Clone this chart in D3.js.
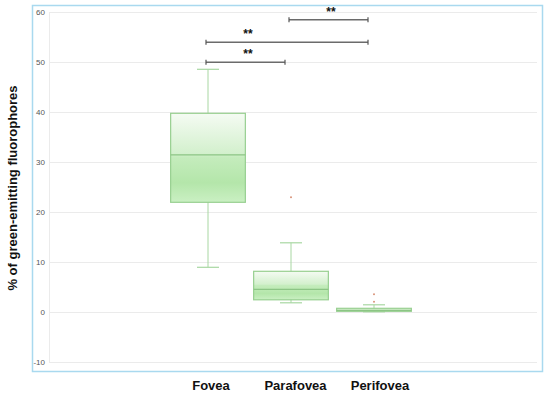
<!DOCTYPE html>
<html>
<head>
<meta charset="utf-8">
<script src="https://cdn.jsdelivr.net/npm/d3@7"></script>
<style>
  body { margin: 0; background: #fff; }
  svg { display: block; font-family: "Liberation Sans", Arial, sans-serif; }
</style>
</head>
<body>
<svg id="chart" width="550" height="397"></svg>
<script>
const categories  = ["Fovea", "Parafovea", "Perifovea"];
const whiskerLow  = [9, 1.9, 0.1];
const q1          = [22, 2.5, 0.2];
const median      = [31.5, 4.6, 0.4];
const q3          = [39.8, 8.2, 0.8];
const whiskerHigh = [48.6, 13.9, 1.5];
const means       = [30.6, 6.0, 0.6];
const outliers    = [[], [23], [3.6, 2.1]];
const yTicks      = [-10, 0, 10, 20, 30, 40, 50, 60];
// [from, to, height, star position (category index)]
const comparisons = [[0, 1, 50, 0.5], [0, 2, 54, 0.5], [1, 2, 58.5, 1.5]];

const svg = d3.select("#chart");

const y = d3.scaleLinear().domain([-10, 60]).range([362.3, 12.3]);
const x = d3.scaleBand().domain(categories).range([166.5, 415.5]).padding(0);
const xi = d3.scaleLinear().domain([0, 1]).range([208, 291]);
const boxW = x.bandwidth() * 0.9;
const capW = 22;

// gradient for boxes
const grad = svg.append("defs").append("linearGradient")
  .attr("id", "boxGrad").attr("x1", 0).attr("y1", 0).attr("x2", 0).attr("y2", 1);
[["0%", "#f5fbf3"], ["45%", "#d3f0cd"], ["50%", "#c4ecbc"], ["78%", "#b4e6aa"], ["100%", "#caf0c3"]]
  .forEach(([o, c]) => grad.append("stop").attr("offset", o).attr("stop-color", c));

// outer frame
svg.append("rect")
  .attr("x", 32.5).attr("y", 5.5).attr("width", 510).attr("height", 366)
  .attr("fill", "none").attr("stroke", "#a9d9ef").attr("stroke-width", 1.5);

// grid
svg.append("g").selectAll("line")
  .data(yTicks)
  .join("line")
  .attr("x1", 49).attr("x2", 537)
  .attr("y1", d => Math.round(y(d)) + 0.5).attr("y2", d => Math.round(y(d)) + 0.5)
  .attr("stroke", "#ebebeb");

svg.append("line")
  .attr("x1", 49.5).attr("x2", 49.5).attr("y1", y(60)).attr("y2", y(-10))
  .attr("stroke", "#ebebeb");

// y tick labels
svg.append("g").selectAll("text")
  .data(yTicks)
  .join("text")
  .attr("x", 45).attr("y", d => y(d))
  .attr("dy", "0.35em")
  .attr("text-anchor", "end")
  .attr("font-size", 8)
  .attr("fill", "#555")
  .text(d => d);

// y axis title
svg.append("text")
  .attr("transform", "translate(17,188) rotate(-90)")
  .attr("text-anchor", "middle")
  .attr("font-size", 13)
  .attr("font-weight", "bold")
  .attr("fill", "#111")
  .text("% of green-emitting fluorophores");

// boxes
const g = svg.append("g").selectAll("g")
  .data(categories)
  .join("g")
  .attr("transform", d => `translate(${x(d) + x.bandwidth() / 2},0)`);

g.append("line")
  .attr("x1", 0).attr("x2", 0)
  .attr("y1", (d, i) => y(whiskerHigh[i])).attr("y2", (d, i) => y(whiskerLow[i]))
  .attr("stroke", "#a8d7a2");

g.selectAll("line.cap")
  .data((d, i) => [whiskerHigh[i], whiskerLow[i]])
  .join("line")
  .attr("class", "cap")
  .attr("x1", -capW / 2).attr("x2", capW / 2)
  .attr("y1", v => y(v)).attr("y2", v => y(v))
  .attr("stroke", "#a8d7a2").attr("stroke-width", 1.2);

g.append("rect")
  .attr("x", -boxW / 2).attr("width", boxW)
  .attr("y", (d, i) => y(q3[i]))
  .attr("height", (d, i) => Math.max(y(q1[i]) - y(q3[i]), 2.5))
  .attr("fill", "url(#boxGrad)")
  .attr("stroke", "#97cf90").attr("stroke-width", 1.2);

g.append("line")
  .attr("x1", -boxW / 2).attr("x2", boxW / 2)
  .attr("y1", (d, i) => y(median[i])).attr("y2", (d, i) => y(median[i]))
  .attr("stroke", "#8cc585").attr("stroke-width", 1.2);

// mean markers
g.append("path")
  .attr("transform", (d, i) => `translate(0,${y(means[i])})`)
  .attr("d", d3.symbol(d3.symbolTimes, 12))
  .attr("fill", "#8a9a88");

// outliers
g.selectAll("circle")
  .data((d, i) => outliers[i])
  .join("circle")
  .attr("cx", 0).attr("cy", v => y(v)).attr("r", 1)
  .attr("fill", "#d8937a");

// category labels
svg.append("g").selectAll("text")
  .data(categories)
  .join("text")
  .attr("x", (d, i) => x(d) + x.bandwidth() / 2 + 3 + i * 1.5)
  .attr("y", 390)
  .attr("text-anchor", "middle")
  .attr("font-size", 13)
  .attr("font-weight", "bold")
  .attr("fill", "#111")
  .text(d => d);

// significance bars
const sig = svg.append("g").selectAll("g")
  .data(comparisons)
  .join("g");

sig.append("line")
  .attr("x1", d => xi(d[0]) - 2).attr("x2", d => xi(d[1]) - 6)
  .attr("y1", d => y(d[2])).attr("y2", d => y(d[2]))
  .attr("stroke", "#6b6b6b").attr("stroke-width", 1.5);

sig.selectAll("line.tick")
  .data(d => [[xi(d[0]) - 2, d[2]], [xi(d[1]) - 6, d[2]]])
  .join("line")
  .attr("class", "tick")
  .attr("x1", p => p[0]).attr("x2", p => p[0])
  .attr("y1", p => y(p[1]) - 2.5).attr("y2", p => y(p[1]) + 2.5)
  .attr("stroke", "#555").attr("stroke-width", 1.2);

sig.append("text")
  .attr("x", d => xi(d[3]) - 1.5)
  .attr("y", d => y(d[2]) - 4)
  .attr("text-anchor", "middle")
  .attr("font-size", 12)
  .attr("font-weight", "bold")
  .attr("fill", "#111")
  .text("**");
</script>
</body>
</html>
